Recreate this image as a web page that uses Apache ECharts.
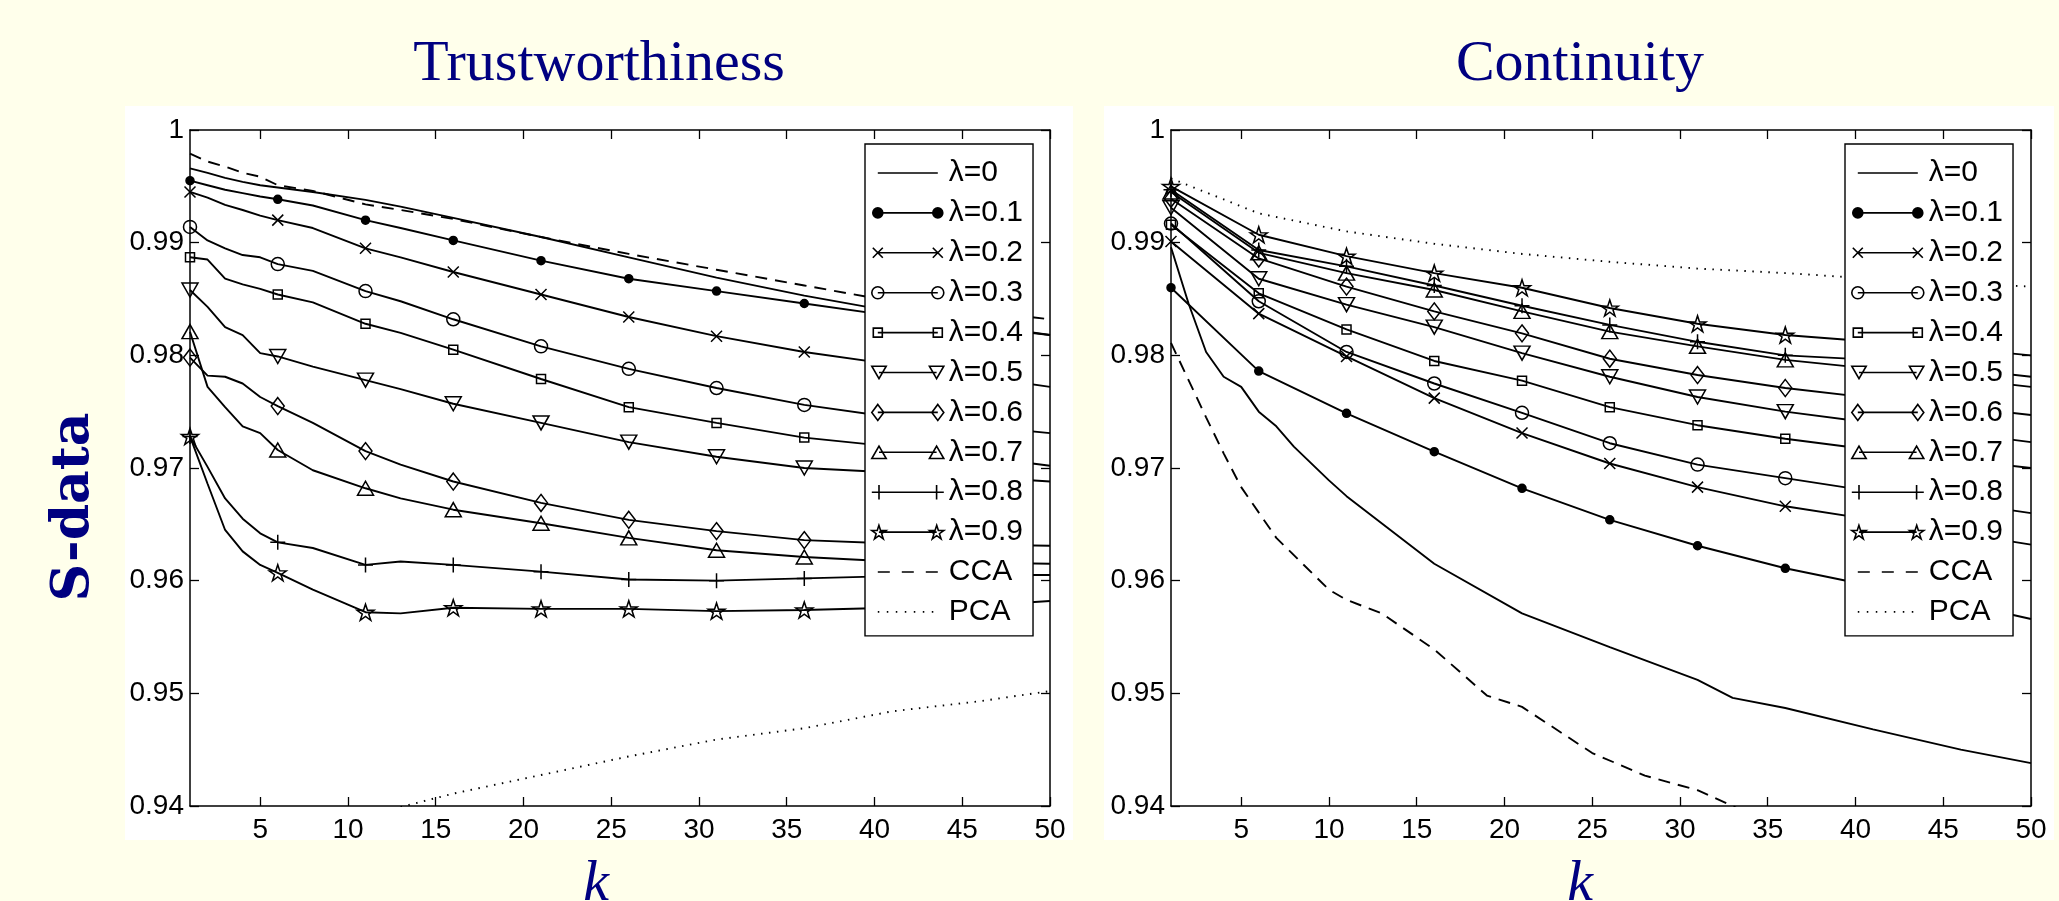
<!DOCTYPE html>
<html><head><meta charset="utf-8">
<script src="https://cdn.jsdelivr.net/npm/echarts@6/dist/echarts.min.js"></script>
<style>html,body{margin:0;padding:0;background:#ffffeb;}#c{width:2059px;height:901px;}</style>
</head><body><div id="c"></div>
<script>
// ---------------- DATA ----------------
const NAMES = ['λ=0','λ=0.1','λ=0.2','λ=0.3','λ=0.4','λ=0.5','λ=0.6','λ=0.7','λ=0.8','λ=0.9','CCA','PCA'];
const X_TICKS = [5,10,15,20,25,30,35,40,45,50];
const Y_TICKS_MIN = 0.94, Y_TICKS_MAX = 1, Y_STEP = 0.01;
const MARK_K = [1,6,11,16,21,26,31,36,41,46];

// Trustworthiness (left)
const K_T = [1,2,3,4,5,6,8,11,13,16,21,26,31,36,41,46,50];
const T_L0 = [0.9966,0.9962,0.99575,0.9954,0.9951,0.9949,0.9945,0.9938,0.9932,0.9922,0.9905,0.9887,0.9869,0.9853,0.9839,0.9827,0.9818];
const T_L1 = [0.9955,0.9951,0.9947,0.9944,0.9941,0.99385,0.9933,0.9920,0.9913,0.9902,0.9884,0.9868,0.9857,0.9846,0.9835,0.9825,0.9818];
const T_L2 = [0.9945,0.9940,0.99335,0.9929,0.9924,0.9920,0.9913,0.9895,0.9887,0.9874,0.9854,0.9834,0.9817,0.9803,0.9792,0.9781,0.9772];
const T_L3 = [0.9914,0.9902,0.9895,0.9889,0.9887,0.9881,0.9875,0.9857,0.9848,0.9832,0.9808,0.9788,0.9771,0.9756,0.9745,0.9737,0.9731];
const T_L4 = [0.9887,0.9885,0.9868,0.9863,0.9859,0.9854,0.9847,0.9828,0.9820,0.9805,0.9779,0.9754,0.9740,0.9727,0.9719,0.9710,0.9702];
const T_L5 = [0.9858,0.9843,0.9825,0.9818,0.9802,0.9799,0.9790,0.9778,0.9770,0.9757,0.9740,0.9723,0.9710,0.9700,0.9696,0.9692,0.9688];
const T_L6 = [0.9798,0.9782,0.9781,0.9775,0.9763,0.9755,0.9740,0.9715,0.9703,0.9688,0.9669,0.9654,0.9644,0.9636,0.9633,0.9632,0.9631];
const T_L7 = [0.9821,0.9772,0.9754,0.9737,0.9731,0.9716,0.9698,0.9682,0.9673,0.9663,0.9651,0.9638,0.9627,0.9621,0.9617,0.9616,0.9615];
const T_L8 = [0.9728,0.9701,0.9673,0.9655,0.9642,0.9634,0.9629,0.9614,0.9617,0.9614,0.9608,0.9601,0.9600,0.9602,0.9604,0.9605,0.9605];
const T_L9 = [0.9728,0.9686,0.9645,0.9626,0.9614,0.9607,0.9592,0.9572,0.9571,0.9576,0.9575,0.9575,0.9573,0.9574,0.9576,0.9578,0.9582];
const T_CCA = [0.9979,0.9972,0.99675,0.9962,0.99585,0.9951,0.9946,0.9934,0.9929,0.9921,0.9905,0.9890,0.9876,0.9862,0.9848,0.9839,0.9832];
const T_PCA = [null,null,null,null,null,null,null,null,0.9399,0.9411,0.94275,0.9444,0.9459,0.9469,0.9484,0.9493,0.9502];

// Continuity (right)
const K_C = [1,6,11,16,21,26,31,36,41,46,50];
const C_L1 = [0.9860,0.9786,0.97485,0.97145,0.9682,0.9654,0.9631,0.9611,0.9595,0.9580,0.9566];
const C_L2 = [0.9901,0.9837,0.9799,0.9762,0.9731,0.9704,0.9683,0.9666,0.9654,0.9642,0.9632];
const C_L3 = [0.9917,0.9848,0.9803,0.9775,0.9749,0.9722,0.9703,0.9691,0.9679,0.9669,0.9660];
const C_L4 = [0.9916,0.9855,0.9823,0.9795,0.97775,0.9754,0.9738,0.9726,0.9716,0.9707,0.9700];
const C_L5 = [0.9931,0.9868,0.9845,0.9825,0.9802,0.9781,0.9763,0.9750,0.9740,0.9731,0.9723];
const C_L6 = [0.9939,0.9886,0.9861,0.9839,0.98195,0.9797,0.97825,0.9771,0.9762,0.9754,0.9747];
const C_L7 = [0.9945,0.9891,0.9873,0.9858,0.9839,0.9821,0.9808,0.9796,0.9788,0.9779,0.9772];
const C_L8 = [0.9947,0.98935,0.9879,0.9862,0.9844,0.9827,0.9812,0.9800,0.9796,0.9788,0.9781];
const C_L9 = [0.9950,0.9907,0.9888,0.9873,0.9860,0.9842,0.9828,0.9818,0.9812,0.9806,0.9800];
const C_PCA = [0.9957,0.9926,0.9910,0.9899,0.9890,0.9883,0.9877,0.9873,0.9868,0.9864,0.9861];
const K_C0 = [1,2,3,4,5,6,7,8,10,11,16,21,26,31,33,36,41,46,50];
const C_L0 = [0.9896,0.9846,0.9803,0.9781,0.9772,0.9750,0.9737,0.9719,0.9689,0.9675,0.9615,0.9571,0.9541,0.9512,0.9496,0.9487,0.9468,0.9450,0.9438];
const K_CCA = [1,2,3,4,5,7,10,11,13,16,19,21,25,28,31,33,34];
const C_CCA = [0.9811,0.9778,0.9745,0.9713,0.9683,0.9638,0.9592,0.9583,0.9571,0.9539,0.9498,0.9488,0.9447,0.9427,0.9414,0.9400,0.9392];

// ---------------- STYLE ----------------
const STAR = [[50,0],[61.23,34.55],[97.55,34.55],[68.17,55.9],[79.39,90.45],[50,69.1],[20.61,90.45],[31.83,55.9],[2.45,34.55],[38.77,34.55]];
const STAR_PATH = 'path://M' + STAR.map(p=>p[0]+','+p[1]).join('L') + 'Z';
const NOFILL = 'rgba(0,0,0,0)';
const SYM = {
  'λ=0.1': {symbol:'circle', size:8, fill:'#000', kind:'dot'},
  'λ=0.2': {symbol:'path://M0,0L10,10M10,0L0,10', size:11, fill:NOFILL, kind:'cross'},
  'λ=0.3': {symbol:'circle', size:13, fill:NOFILL, kind:'circle'},
  'λ=0.4': {symbol:'rect', size:9, fill:NOFILL, kind:'square'},
  'λ=0.5': {symbol:'path://M0,0L100,0L50,86Z', size:[16,14], fill:NOFILL, kind:'tdown'},
  'λ=0.6': {symbol:'diamond', size:[13,17], fill:NOFILL, kind:'diamond'},
  'λ=0.7': {symbol:'triangle', size:[16,14], fill:NOFILL, kind:'tup'},
  'λ=0.8': {symbol:'path://M5,0L5,10M0,5L10,5', size:15, fill:NOFILL, kind:'plus'},
  'λ=0.9': {symbol:STAR_PATH, size:[17,16], fill:NOFILL, kind:'star'}
};
const LINE_TYPE = {'CCA':[12,8], 'PCA':[1.5,6.5]};

const IH = 16, CY = 8;
function circ(cx,cy,r){return `M${cx-r},${cy}A${r},${r},0,1,1,${cx+r},${cy}A${r},${r},0,1,1,${cx-r},${cy}Z`;}
function mk(kind,cx){
  switch(kind){
    case 'dot': return circ(cx,CY,5);
    case 'cross': return `M${cx-5},${CY-5}L${cx+5},${CY+5}M${cx+5},${CY-5}L${cx-5},${CY+5}`;
    case 'circle': return circ(cx,CY,6);
    case 'square': return `M${cx-4.5},${CY-4.5}L${cx+4.5},${CY-4.5}L${cx+4.5},${CY+4.5}L${cx-4.5},${CY+4.5}Z`;
    case 'tdown': return `M${cx-7.5},${CY-6.5}L${cx+7.5},${CY-6.5}L${cx},${CY+6.5}Z`;
    case 'diamond': return `M${cx},0L${cx+6},${CY}L${cx},16L${cx-6},${CY}Z`;
    case 'tup': return `M${cx},${CY-6.5}L${cx+7.5},${CY+6.5}L${cx-7.5},${CY+6.5}Z`;
    case 'plus': return `M${cx},0.5L${cx},15.5M${cx-7.5},${CY}L${cx+7.5},${CY}`;
    case 'star': return 'M' + STAR.map(p=>(p[0]*0.155+cx-7.75).toFixed(2)+','+(p[1]*0.155+1).toFixed(2)).join('L') + 'Z';
  }
  return '';
}
const BB = `M0,0L0,0M72,${IH}L72,${IH}`;
function legendIcon(name){
  let p = BB;
  if (name === 'CCA') p += `M6,${CY}L18,${CY}M30,${CY}L42,${CY}M54,${CY}L66,${CY}`;
  else if (name === 'PCA') { for (let x=6; x<=62; x+=9) p += `M${x},${CY}L${x+1.5},${CY}`; }
  else {
    p += `M6,${CY}L66,${CY}`;
    const s = SYM[name];
    if (s) p += mk(s.kind,6) + mk(s.kind,66);
  }
  return 'path://' + p;
}

function mkData(ks, vs){
  const out = [];
  ks.forEach((k,i)=>{
    if (vs[i] === null) return;
    const it = {value:[k, vs[i]]};
    if (MARK_K.indexOf(k) < 0) it.symbol = 'none';
    out.push(it);
  });
  return out;
}
function mkSeries(name, g, ks, vs){
  const s = SYM[name];
  return {
    type:'line', name, xAxisIndex:g*2, yAxisIndex:g*2,
    data: mkData(ks, vs),
    symbol: s ? s.symbol : 'none',
    symbolSize: s ? s.size : 0,
    showSymbol: true, showAllSymbol: true,
    lineStyle:{color:'#000', width:1.9, type: LINE_TYPE[name] || 'solid'},
    itemStyle:{color: s ? s.fill : '#000', borderColor:'#000', borderWidth:1.5},
    emphasis:{disabled:true}, silent:true, z:2
  };
}

const FONT = 'Liberation Sans';
function xAx(g, pos, labels){
  return {type:'value', gridIndex:g, position:pos, min:1, max:50,
    axisLine:{show:true, onZero:false, lineStyle:{color:'#000', width:1.5}},
    axisTick:{show:true, inside:true, length:9, customValues:X_TICKS, lineStyle:{color:'#000', width:1.3}},
    axisLabel:{show:labels, customValues:X_TICKS, margin:10, fontFamily:FONT, fontSize:28, color:'#000'},
    splitLine:{show:false}};
}
function yAx(g, pos, labels){
  return {type:'value', gridIndex:g, position:pos, min:Y_TICKS_MIN, max:Y_TICKS_MAX, interval:Y_STEP,
    axisLine:{show:true, onZero:false, lineStyle:{color:'#000', width:1.5}},
    axisTick:{show:true, inside:true, length:9, lineStyle:{color:'#000', width:1.3}},
    axisLabel:{show:labels, margin:6, fontFamily:FONT, fontSize:28, color:'#000', showMinLabel:true, showMaxLabel:true,
      formatter: v => String(Math.round(v*100)/100)},
    splitLine:{show:false}};
}
function mkLegend(left){
  return {orient:'vertical', left, top:144, itemWidth:72, itemHeight:IH, itemGap:9.9,
    padding:[14,10,9,6], backgroundColor:'#fff', borderColor:'#000', borderWidth:1.4, borderRadius:0,
    selectedMode:false, textStyle:{fontFamily:FONT, fontSize:30, color:'#000', lineHeight:30},
    data: NAMES.map(n=>({name:n, icon:legendIcon(n),
      itemStyle:{color: (SYM[n] ? SYM[n].fill : NOFILL), borderColor:'#000', borderWidth:1.6}}))};
}

const series = [
  mkSeries('λ=0',0,K_T,T_L0), mkSeries('λ=0.1',0,K_T,T_L1), mkSeries('λ=0.2',0,K_T,T_L2),
  mkSeries('λ=0.3',0,K_T,T_L3), mkSeries('λ=0.4',0,K_T,T_L4), mkSeries('λ=0.5',0,K_T,T_L5),
  mkSeries('λ=0.6',0,K_T,T_L6), mkSeries('λ=0.7',0,K_T,T_L7), mkSeries('λ=0.8',0,K_T,T_L8),
  mkSeries('λ=0.9',0,K_T,T_L9), mkSeries('CCA',0,K_T,T_CCA), mkSeries('PCA',0,K_T,T_PCA),
  mkSeries('λ=0',1,K_C0,C_L0), mkSeries('λ=0.1',1,K_C,C_L1), mkSeries('λ=0.2',1,K_C,C_L2),
  mkSeries('λ=0.3',1,K_C,C_L3), mkSeries('λ=0.4',1,K_C,C_L4), mkSeries('λ=0.5',1,K_C,C_L5),
  mkSeries('λ=0.6',1,K_C,C_L6), mkSeries('λ=0.7',1,K_C,C_L7), mkSeries('λ=0.8',1,K_C,C_L8),
  mkSeries('λ=0.9',1,K_C,C_L9), mkSeries('CCA',1,K_CCA,C_CCA), mkSeries('PCA',1,K_C,C_PCA)
];

const NAVY = '#000080';
const chart = echarts.init(document.getElementById('c'));
chart.setOption({
  animation:false,
  backgroundColor:'#ffffeb',
  grid:[
    {left:190, top:130, width:860, height:676, outerBoundsMode:'none', containLabel:false},
    {left:1171, top:130, width:860, height:676, outerBoundsMode:'none', containLabel:false}
  ],
  xAxis:[xAx(0,'bottom',true), xAx(0,'top',false), xAx(1,'bottom',true), xAx(1,'top',false)],
  yAxis:[yAx(0,'left',true), yAx(0,'right',false), yAx(1,'left',true), yAx(1,'right',false)],
  legend:[mkLegend(865), mkLegend(1845)],
  graphic:[
    {type:'rect', z:-1, silent:true, shape:{x:125, y:106, width:948, height:734}, style:{fill:'#fff'}},
    {type:'rect', z:-1, silent:true, shape:{x:1104, y:106, width:950, height:734}, style:{fill:'#fff'}},
    {type:'text', x:599, y:65, silent:true, style:{text:'Trustworthiness', font:'58px "Liberation Serif"', fill:NAVY, textAlign:'center', textVerticalAlign:'middle'}},
    {type:'text', x:1580, y:65, silent:true, style:{text:'Continuity', font:'58px "Liberation Serif"', fill:NAVY, textAlign:'center', textVerticalAlign:'middle'}},
    {type:'text', x:74, y:507, rotation:Math.PI/2, silent:true, style:{text:'S-data', font:'bold 52px "DejaVu Serif"', fill:NAVY, textAlign:'center', textVerticalAlign:'middle'}},
    {type:'text', x:596, y:885, silent:true, style:{text:'k', font:'italic 58px "Liberation Serif"', fill:NAVY, textAlign:'center', textVerticalAlign:'middle'}},
    {type:'text', x:1580, y:885, silent:true, style:{text:'k', font:'italic 58px "Liberation Serif"', fill:NAVY, textAlign:'center', textVerticalAlign:'middle'}}
  ],
  series
});
</script></body></html>
